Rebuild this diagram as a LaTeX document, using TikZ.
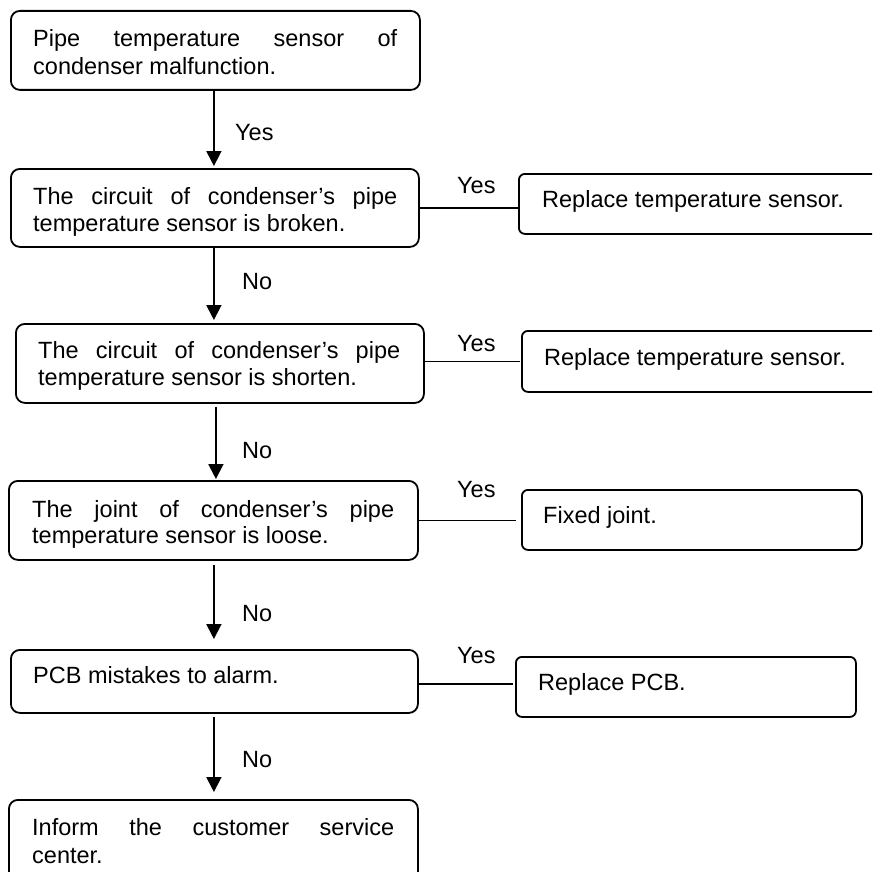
\documentclass[tikz,border=0pt]{standalone}
\usepackage{fontspec}
\setmainfont{Liberation Sans}
\usetikzlibrary{arrows.meta,calc}
\begin{document}
\begin{tikzpicture}[x=1pt,y=-1pt,
  box/.style={draw=black, line width=1.8pt, rounded corners=9pt, inner sep=0pt, anchor=north west},
  rbox/.style={draw=black, line width=1.8pt, rounded corners=6pt, inner sep=0pt, anchor=north west},
  txt/.style={anchor=base west, inner sep=0pt, font=\fontsize{23.5pt}{27pt}\selectfont},
  arr/.style={line width=1.8pt, -{Triangle[length=15pt,width=15pt]}},
  link/.style={line width=1.5pt}]
\useasboundingbox (0,0) rectangle (872,872);
\clip (0,0) rectangle (872,872);
% main boxes
\node[box, minimum width=409pt, minimum height=79pt] (b1) at (10,10) {};
\node[box, minimum width=408pt, minimum height=78pt] (b2) at (10,168) {};
\node[box, minimum width=408pt, minimum height=79pt] (b3) at (15,323) {};
\node[box, minimum width=409pt, minimum height=79pt] (b4) at (8,480) {};
\node[box, minimum width=407pt, minimum height=63pt] (b5) at (10,649) {};
\node[box, minimum width=409pt, minimum height=90pt] (b6) at (8,799) {};
% right boxes
\node[rbox, minimum width=370pt, minimum height=60pt] (r1) at (518,173) {};
\node[rbox, minimum width=370pt, minimum height=61pt] (r2) at (521,330) {};
\node[rbox, minimum width=340pt, minimum height=60pt] (r3) at (521,489) {};
\node[rbox, minimum width=340pt, minimum height=60pt] (r4) at (515,656) {};
% texts
\node[txt] (t1a) at (33,47) {\makebox[364pt][s]{Pipe temperature sensor of}};
\node[txt] (t1b) at (33,75) {condenser malfunction.};
\node[txt] (t2a) at (33,204) {\makebox[364pt][s]{The circuit of condenser’s pipe}};
\node[txt] (t2b) at (33,231) {temperature sensor is broken.};
\node[txt] (t3a) at (38,358) {\makebox[362pt][s]{The circuit of condenser’s pipe}};
\node[txt] (t3b) at (38,385) {temperature sensor is shorten.};
\node[txt] (t4a) at (32,517) {\makebox[362pt][s]{The joint of condenser’s pipe}};
\node[txt] (t4b) at (32,543) {temperature sensor is loose.};
\node[txt] (t5) at (33,683) {PCB mistakes to alarm.};
\node[txt] (t6a) at (32,835) {\makebox[362pt][s]{Inform the customer service}};
\node[txt] (t6b) at (32,863) {center.};
\node[txt] (s1) at (542,207) {Replace temperature sensor.};
\node[txt] (s2) at (544,365) {Replace temperature sensor.};
\node[txt] (s3) at (543,523) {Fixed joint.};
\node[txt] (s4) at (538,690) {Replace PCB.};
% labels
\node[txt] (y1) at (235,140) {Yes};
\node[txt] (n2) at (242,289) {No};
\node[txt] (n3) at (242,458) {No};
\node[txt] (n4) at (242,621) {No};
\node[txt] (n5) at (242,767) {No};
\node[txt] (y2) at (457,193) {Yes};
\node[txt] (y3) at (457,351) {Yes};
\node[txt] (y4) at (457,497) {Yes};
\node[txt] (y5) at (457,663) {Yes};
% vertical arrows
\draw[arr, shorten >=2pt] ([xshift=-1.5pt]b1.south) -- ([xshift=-1.5pt]b1.south |- b2.north);
\draw[arr, shorten >=3pt] ([xshift=-1pt]b2.south) -- ([xshift=-1pt]b2.south |- b3.north);
\draw[arr, shorten <=3pt, shorten >=1pt] ([xshift=-4pt]b3.south) -- ([xshift=-4pt]b3.south |- b4.north);
\draw[arr, shorten <=4pt, shorten >=10pt] ([xshift=0.5pt]b4.south) -- ([xshift=0.5pt]b4.south |- b5.north);
\draw[arr, shorten <=3pt, shorten >=7pt] ([xshift=-0.5pt]b5.south) -- ([xshift=-0.5pt]b5.south |- b6.north);
% horizontal links
\draw[link] (b2.east) -- (b2.east -| r1.west);
\draw[link, shorten >=1pt] (b3.east |- r2.west) -- (r2.west);
\draw[link, shorten >=5pt] (b4.east) -- (b4.east -| r3.west);
\draw[link, shorten >=2pt] ([yshift=-2.5pt]b5.east) -- ([yshift=-2.5pt]b5.east -| r4.west);
\end{tikzpicture}
\end{document}
